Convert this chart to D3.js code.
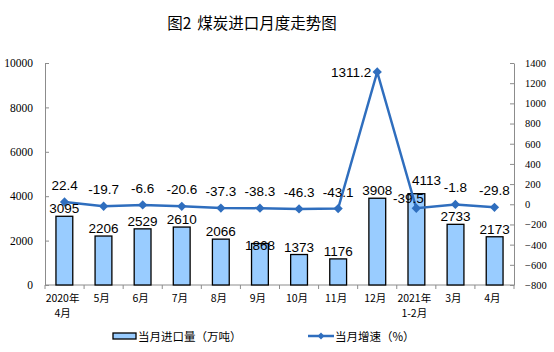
<!DOCTYPE html>
<html>
<head>
<meta charset="utf-8">
<script src="https://cdn.jsdelivr.net/npm/d3@7"></script>
<style>
  body { margin: 0; background: #fff; }
  svg text { font-family: "Liberation Serif", serif; }
</style>
</head>
<body>
<svg id="chart"></svg>
<script>
const WIDTH = 554;
const HEIGHT = 352;

const months = ["2020年\n4月", "5月", "6月", "7月", "8月", "9月", "10月", "11月", "12月", "2021年\n1-2月", "3月", "4月"];
const imports = [3095, 2206, 2529, 2610, 2066, 1868, 1373, 1176, 3908, 4113, 2733, 2173];
const growth = [22.4, -19.7, -6.6, -20.6, -37.3, -38.3, -46.3, -43.1, 1311.2, -39.5, -1.8, -29.8];
const leftTicks = [0, 2000, 4000, 6000, 8000, 10000];
const rightTicks = [-800, -600, -400, -200, 0, 200, 400, 600, 800, 1000, 1200, 1400];

const BAR_FILL = "#99CCFF";
const LINE_COLOR = "#2F6EBE";
const CJK = "'Noto Sans CJK SC', sans-serif";

// label nudges (placement only)
const barLabelDy = { 5: 9, 9: -6 };
const barLabelDx = { 9: 10 };

function drawChart(svg) {
  const left = 45, right = 514, top = 63, bottom = 285;

  const x = d3.scaleBand().domain(d3.range(months.length))
    .range([left, right]).paddingInner(0.57).paddingOuter(0.28);
  const band = d3.scaleBand().domain(d3.range(months.length)).range([left, right]);
  const yL = d3.scaleLinear().domain([0, 10000]).range([bottom, top]);
  const yR = d3.scaleLinear().domain([-800, 1400]).range([bottom, top]);

  const title = svg.append("text").attr("x", 252).attr("y", 29)
    .attr("text-anchor", "middle").style("font-family", CJK)
    .attr("font-size", 15.5).attr("fill", "#000");
  title.append("tspan").text("图2");
  title.append("tspan").attr("dx", 6).text("煤炭进口月度走势图");

  // left axis
  const gl = svg.append("g").attr("transform", `translate(${left},0)`)
    .call(d3.axisLeft(yL).tickValues(leftTicks).tickFormat(d3.format("d"))
      .tickSize(-4).tickPadding(12).tickSizeOuter(0));
  // right axis
  const gr = svg.append("g").attr("transform", `translate(${right},0)`)
    .call(d3.axisRight(yR).tickValues(rightTicks).tickFormat(d3.format("d"))
      .tickSize(-4).tickPadding(11).tickSizeOuter(0));
  [gl, gr].forEach(g => {
    g.select(".domain").attr("stroke", "#8c8c8c");
    g.selectAll(".tick line").attr("stroke", "#8c8c8c");
    g.selectAll("text").attr("fill", "#000")
      .style("font-family", "'Liberation Serif', serif");
  });
  gl.selectAll("text").attr("font-size", 11.5);
  gr.selectAll("text").attr("font-size", 10.5);

  // bottom axis
  svg.append("line").attr("x1", left).attr("x2", right)
    .attr("y1", bottom).attr("y2", bottom).attr("stroke", "#8c8c8c");
  svg.append("g").selectAll("line").data(d3.range(months.length + 1)).join("line")
    .attr("x1", i => left + i * band.bandwidth()).attr("x2", i => left + i * band.bandwidth())
    .attr("y1", bottom).attr("y2", bottom + 4).attr("stroke", "#8c8c8c");

  // bars
  svg.append("g").selectAll("rect").data(imports).join("rect")
    .attr("x", (d, i) => x(i)).attr("y", d => yL(d))
    .attr("width", x.bandwidth()).attr("height", d => bottom - yL(d))
    .attr("fill", BAR_FILL).attr("stroke", "#000").attr("stroke-width", 1.3);

  // line
  const line = d3.line().x((d, i) => band(i) + band.bandwidth() / 2).y(d => yR(d));
  svg.append("path").datum(growth).attr("d", line)
    .attr("fill", "none").attr("stroke", LINE_COLOR).attr("stroke-width", 2.5);
  svg.append("g").selectAll("path").data(growth).join("path")
    .attr("transform", (d, i) => `translate(${band(i) + band.bandwidth() / 2},${yR(d)})`)
    .attr("d", d3.symbol(d3.symbolDiamond2, 55)).attr("fill", LINE_COLOR);

  // category labels
  const xl = svg.append("g").selectAll("text").data(months).join("text")
    .attr("text-anchor", "middle").style("font-family", "'Noto Sans CJK SC', 'Liberation Serif', serif")
    .attr("font-size", 10.5).attr("fill", "#000");
  xl.each(function(d, i) {
    const parts = d.split("\n");
    const t = d3.select(this);
    parts.forEach((p, k) => t.append("tspan")
      .attr("x", band(i) + band.bandwidth() / 2 - 2).attr("y", 302 + k * 15).text(p));
  });

  // bar value labels
  svg.append("g").selectAll("text").data(imports).join("text")
    .attr("x", (d, i) => x(i) + x.bandwidth() / 2 + (barLabelDx[i] || 0))
    .attr("y", (d, i) => yL(d) - 3 + (barLabelDy[i] || 0))
    .attr("text-anchor", "middle").style("font-family", "'Liberation Sans', Arial, sans-serif")
    .attr("font-size", 13.5).attr("fill", "#000").text(d => d);

  // growth labels
  svg.append("g").selectAll("text").data(growth).join("text")
    .attr("x", (d, i) => {
      const cx = band(i) + band.bandwidth() / 2;
      if (d > 1000) return cx - 6;
      if (i === 9) return cx - 8;
      return cx;
    })
    .attr("y", (d, i) => d > 1000 ? yR(d) + 5 : (i === 9 ? yR(d) - 5 : yR(d) - 12))
    .attr("text-anchor", d => d > 1000 ? "end" : "middle")
    .style("font-family", "'Liberation Sans', Arial, sans-serif")
    .attr("font-size", 13.5).attr("fill", "#000").text(d => d.toFixed(1));

  // legend
  const lg = svg.append("g");
  lg.append("rect").attr("x", 113).attr("y", 333).attr("width", 23).attr("height", 6)
    .attr("fill", BAR_FILL).attr("stroke", "#000").attr("stroke-width", 1.3);
  lg.append("text").attr("x", 138).attr("y", 341).style("font-family", CJK)
    .attr("font-size", 11.5).attr("fill", "#000").text("当月进口量（万吨）");
  lg.append("line").attr("x1", 308).attr("x2", 334).attr("y1", 336).attr("y2", 336)
    .attr("stroke", LINE_COLOR).attr("stroke-width", 2.5);
  lg.append("path").attr("transform", "translate(321,336)")
    .attr("d", d3.symbol(d3.symbolDiamond2, 30)).attr("fill", LINE_COLOR);
  lg.append("text").attr("x", 335).attr("y", 341).style("font-family", CJK)
    .attr("font-size", 11.5).attr("fill", "#000").text("当月增速（%）");
}

window.addEventListener("load", () => {
  const svg = d3.select("#chart").attr("width", WIDTH).attr("height", HEIGHT);
  drawChart(svg);
});
</script>
</body>
</html>
